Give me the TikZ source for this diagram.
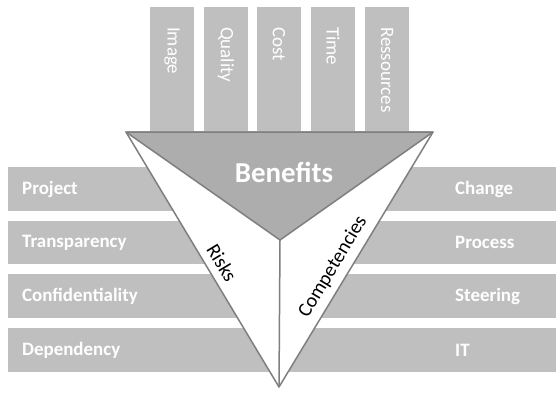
\documentclass[tikz,border=0pt]{standalone}
\usepackage{fontspec}
\setmainfont{Carlito}
\usepackage{xcolor}
\usetikzlibrary{calc}

\definecolor{barfill}{HTML}{BFBFBF}
\definecolor{benefitfill}{HTML}{ADADAD}
\definecolor{edgegray}{HTML}{7F7F7F}

\tikzset{
	hbar/.style = {fill = barfill, minimum width = 550, minimum height = 44, inner sep = 0pt},
	vbar/.style = {fill = barfill, minimum width = 44, minimum height = 124, inner sep = 0pt},
	hlabel/.style = {text = white, font = \fontsize{19}{21}\selectfont\bfseries, anchor = west, inner sep = 0pt},
	vlabel/.style = {text = white, font = \fontsize{19}{21}\selectfont, rotate = -90, anchor = west, inner sep = 0pt},
	sidelabel/.style = {text = black, font = \fontsize{20}{22}\selectfont, inner sep = 0pt}
}

\begin{document}
\begin{tikzpicture}[x = 1bp, y = -1bp]
	\useasboundingbox (0,0) rectangle (559,395);
	
	\def\ytop{132};
	
	\coordinate (tl) at (126,\ytop);
	\coordinate (tr) at (433,\ytop);
	\coordinate (bot) at (279,387);
	\coordinate (mid) at (280,240);
	
	% side bars
	\begin{scope}
		\node [hbar] (row1) at (282,189) {};
		\node [hbar] (row2) at (282,242.5) {};
		\node [hbar] (row3) at (282,296) {};
		\node [hbar] (row4) at (282,350) {};
		
		\node [hlabel] (project) at (22,189) {Project};
		\node [hlabel] (transparency) at (22,242.5) {Transparency};
		\node [hlabel] (confidentiality) at (22,296) {Confidentiality};
		\node [hlabel] (dependency) at (22,350) {Dependency};
		
		\node [hlabel] (change) at (455,189) {Change};
		\node [hlabel] (process) at (455,242.5) {Process};
		\node [hlabel] (steering) at (455,296) {Steering};
		\node [hlabel] (it) at (455,350) {IT};
	\end{scope}
	
	% top bars
	\begin{scope}
		\foreach \x/\name/\txt in {172/image/Image, 226/quality/Quality, 279/cost/Cost, 333/time/Time, 387/ressources/Ressources} {
			\node [vbar] (\name) at (\x,69) {};
			\node [vlabel] (\name-txt) at (\x,27) {\txt};
		}
	\end{scope}
	
	% triangle
	\begin{scope}[draw = edgegray, line width = 1.5bp, line join = round]
		\filldraw [fill = white] (tl) -- (tr) -- (bot) -- cycle;
		\filldraw [fill = benefitfill] (tl) -- (tr) -- (mid) -- cycle;
		\draw (mid) -- (bot);
		
		\node [text = white, font = \fontsize{29}{31}\selectfont\bfseries] (benefits) at (284,172) {Benefits};
		\node [sidelabel, rotate = -59] (risks) at (222,263) {Risks};
		\node [sidelabel, rotate = 59] (competencies) at (333,267) {Competencies};
	\end{scope}
\end{tikzpicture}
\end{document}
